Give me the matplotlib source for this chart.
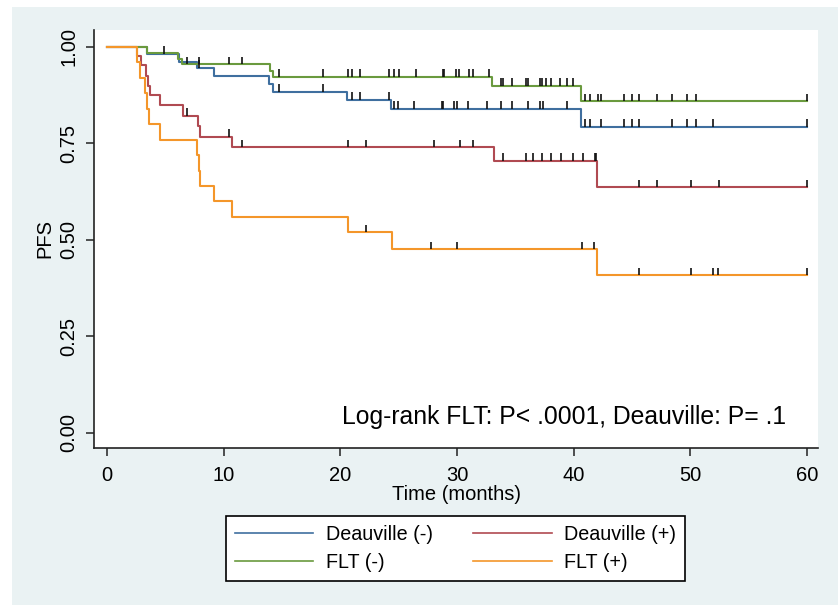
import matplotlib
matplotlib.use('Agg')
import matplotlib.pyplot as plt
import numpy as np
from matplotlib.patches import Rectangle
from matplotlib.lines import Line2D

plt.rcParams['font.family'] = ['Liberation Sans', 'DejaVu Sans']

# ---------------- data ----------------
# Deauville (-)
dneg_t = [0, 3.45, 6.2, 7.69, 9.2, 13.91, 14.26, 20.6, 24.31, 40.6]
dneg_s = [1.0, 0.982, 0.962, 0.945, 0.925, 0.905, 0.884, 0.863, 0.839, 0.794]
dneg_c = [4.9, 7.9, 14.77, 18.54, 20.97, 21.69, 24.2, 24.6, 24.97, 26.3, 28.7, 28.8,
          29.74, 29.97, 30.97, 32.54, 33.74, 34.69, 36.08, 37.11, 37.35, 39.47,
          40.97, 41.4, 42.34, 44.34, 44.97, 45.63, 48.46, 49.74, 50.46, 51.97, 60.0]

# Deauville (+)
dpos_t = [0, 2.6, 2.91, 3.34, 3.49, 3.69, 4.54, 6.49, 7.77, 7.97, 10.69, 33.17, 42.03]
dpos_s = [1.0, 0.977, 0.953, 0.925, 0.90, 0.876, 0.85, 0.821, 0.795, 0.768, 0.740, 0.705, 0.636]
dpos_c = [6.83, 10.49, 11.54, 20.63, 22.17, 28.03, 30.23, 31.4, 33.97, 35.91, 36.54,
          37.26, 38.06, 38.89, 39.91, 40.77, 41.83, 41.92, 45.63, 47.17, 50.06, 52.43, 60.0]

# FLT (-)
fneg_t = [0, 3.45, 6.1, 6.4, 13.97, 14.26, 33.0, 40.6]
fneg_s = [1.0, 0.984, 0.970, 0.955, 0.938, 0.923, 0.899, 0.859]
fneg_c = [6.83, 7.9, 10.49, 11.54, 14.77, 18.54, 20.69, 20.97, 21.69, 24.2, 24.6, 25.06,
          26.49, 28.8, 28.9, 29.89, 30.15, 31.06, 31.4, 32.77, 33.74, 33.97, 34.69,
          35.9, 36.06, 37.11, 37.26, 37.63, 38.06, 38.83, 39.46, 39.9, 40.97, 41.4,
          42.06, 42.34, 44.34, 44.97, 45.63, 47.17, 48.46, 49.74, 50.46, 60.0]

# FLT (+)
fpos_t = [0, 2.54, 2.83, 3.26, 3.4, 3.63, 4.54, 7.69, 7.85, 7.97, 9.2, 10.74, 20.69, 24.4, 41.97]
fpos_s = [1.0, 0.96, 0.92, 0.88, 0.84, 0.80, 0.76, 0.72, 0.68, 0.64, 0.60, 0.56, 0.52, 0.476, 0.408]
fpos_c = [22.2, 27.77, 29.97, 40.74, 41.77, 45.63, 50.06, 51.9, 52.4, 60.0]

labels = ['Deauville (-)', 'Deauville (+)', 'FLT (-)', 'FLT (+)']
colors = ['#3F6F9F', '#B04A52', '#6A9A3E', '#F4962A']
x_ticks = [0, 10, 20, 30, 40, 50, 60]
y_ticks = [0.0, 0.25, 0.5, 0.75, 1.0]
y_ticklabels = ['0.00', '0.25', '0.50', '0.75', '1.00']
t_end = 60.0
annot = 'Log-rank FLT: P< .0001, Deauville: P= .1'

# ---------------- figure ----------------
W, H = 838, 605
fig = plt.figure(figsize=(W / 100, H / 100), dpi=100)
fig.patch.set_facecolor('white')
fig.add_artist(Rectangle((12 / W, 0), 1, 1 - 7 / H, transform=fig.transFigure,
                         facecolor='#EAF2F3', edgecolor='none', zorder=-10))

L, R, T, B = 94, 818, 30, 448
ax = fig.add_axes([L / W, 1 - B / H, (R - L) / W, (B - T) / H])
ax.set_facecolor('white')

series = [(dneg_t, dneg_s, dneg_c), (dpos_t, dpos_s, dpos_c),
          (fneg_t, fneg_s, fneg_c), (fpos_t, fpos_s, fpos_c)]

handles = []
for (tt, ss, cc), lab, col in zip(series, labels, colors):
    tt = np.array(tt, float)
    ss = np.array(ss, float)
    x = np.append(tt, t_end)
    y = np.append(ss, ss[-1])
    ax.plot(x, y, drawstyle='steps-post', color=col, lw=1.5, zorder=2)
    cc = np.array(cc, float)
    idx = np.searchsorted(tt, cc, side='right') - 1
    lv = ss[idx]
    ax.vlines(cc, lv, lv + 0.02, color='#111111', lw=1.2, zorder=3)
    handles.append(Line2D([], [], color=col, lw=1.2))

ax.set_xlim(-1.11, 60.94)
ax.set_ylim(-0.0389, 1.044)
ax.set_xticks(x_ticks)
ax.set_yticks(y_ticks)
ax.set_yticklabels(y_ticklabels, rotation=90, va='center')
for s in ['top', 'right']:
    ax.spines[s].set_visible(False)
for s in ['left', 'bottom']:
    ax.spines[s].set_color('#222222')
    ax.spines[s].set_linewidth(1.2)
ax.tick_params(axis='both', direction='out', length=6, width=1.1, color='#222222',
               labelsize=14.5, labelcolor='black')
ax.tick_params(axis='x', pad=7)
ax.tick_params(axis='y', pad=5)
ax.set_xlabel('Time (months)', fontsize=14.5, labelpad=0)
ax.set_ylabel('PFS', fontsize=14.5, labelpad=4)

ax.text(58.2, 0.0415, annot, ha='right', va='center', fontsize=17.8, color='black')

order = [0, 2, 1, 3]
leg = fig.legend([handles[i] for i in order], [labels[i] for i in order], ncol=2,
                 loc='center', bbox_to_anchor=(455.5 / W, 1 - 548.5 / H),
                 frameon=True, fancybox=False, edgecolor='black', facecolor='white',
                 fontsize=14.2, handlelength=4.0, handletextpad=0.65, columnspacing=2.0,
                 borderpad=0.45, labelspacing=0.45, framealpha=1)
leg.get_frame().set_linewidth(1.2)

fig.savefig('out.png', dpi=100, facecolor=fig.get_facecolor())
